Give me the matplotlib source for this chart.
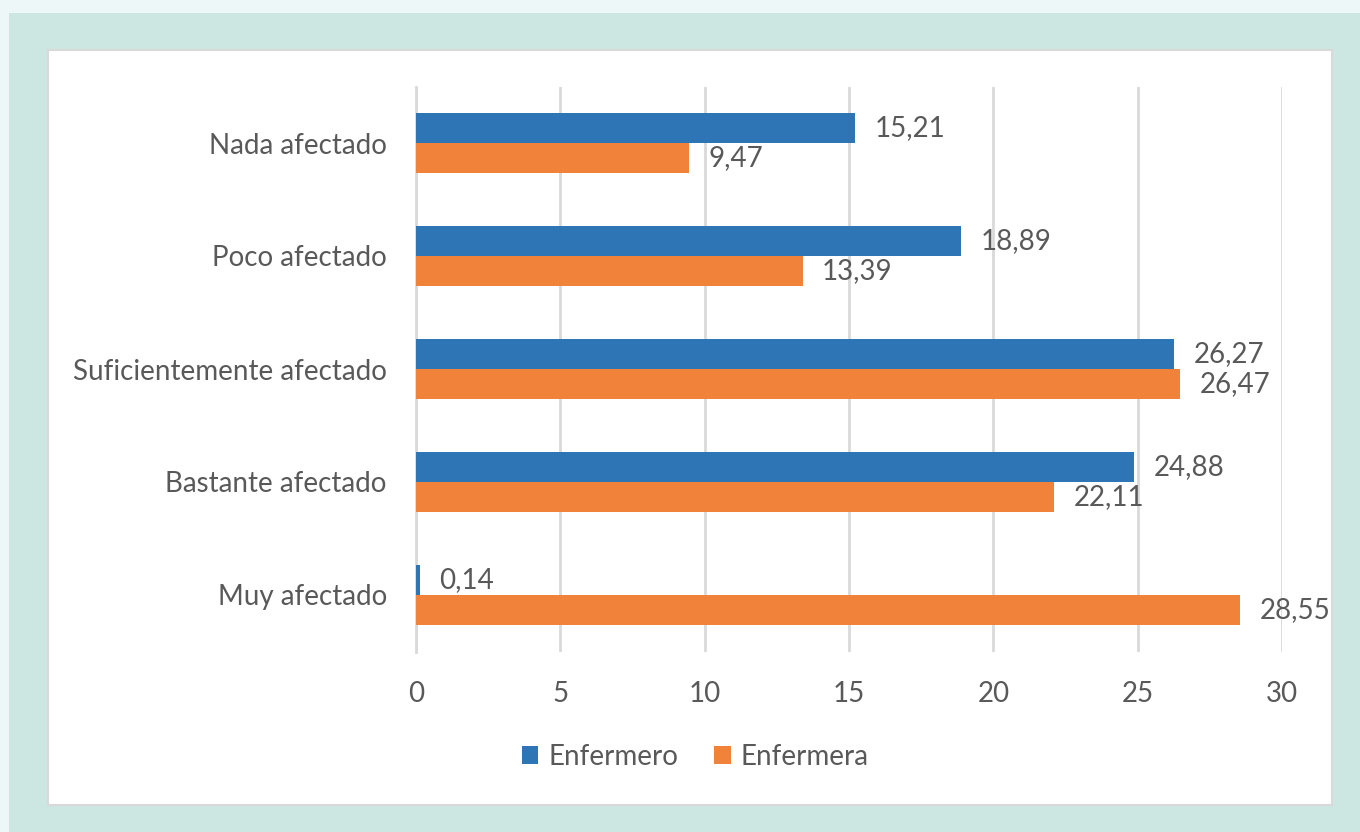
import numpy as np
import matplotlib.pyplot as plt
from matplotlib.patches import Rectangle

# data
categorias = ['Nada afectado', 'Poco afectado', 'Suficientemente afectado',
              'Bastante afectado', 'Muy afectado']
enfermero = [15.21, 18.89, 26.27, 24.88, 0.14]
enfermera = [9.47, 13.39, 26.47, 22.11, 28.55]

azul = '#2E75B6'
naranja = '#F0823A'
gris_txt = '#595959'
gris_lin = '#D9D9D9'

plt.rcParams['font.family'] = ['Lato', 'DejaVu Sans']

W, H = 1360, 832
fig = plt.figure(figsize=(W / 100, H / 100), dpi=100)
fig.patch.set_facecolor('#EEF7F8')

def px(x0, y0, x1, y1):
    # pixel box (top-left origin) -> figure fraction rectangle
    return (x0 / W, 1 - y1 / H, (x1 - x0) / W, (y1 - y0) / H)

# teal frame and white panel
x, y, w, h = px(9, 13, 1360, 832)
fig.patches.append(Rectangle((x, y), w, h, transform=fig.transFigure,
                             facecolor='#CCE6E1', edgecolor='none', zorder=-2))
x, y, w, h = px(48, 50, 1332, 805)
fig.patches.append(Rectangle((x, y), w, h, transform=fig.transFigure,
                             facecolor='white', edgecolor=gris_lin, lw=1.5, zorder=-1))

ax = fig.add_axes(px(416, 86.5, 1282, 651.5))
ax.set_zorder(2)
ax.set_facecolor('none')

pos = np.arange(len(categorias))
alto = 0.262
ax.barh(pos - alto / 2, enfermero, height=alto, color=azul, label='Enfermero', zorder=3)
ax.barh(pos + alto / 2, enfermera, height=alto, color=naranja, label='Enfermera', zorder=3)

fs = 20
for i in range(len(categorias)):
    ax.annotate(f'{enfermero[i]:.2f}'.replace('.', ','), (enfermero[i], pos[i] - alto / 2),
                xytext=(14, 0), textcoords='offset points', va='center', ha='left',
                fontsize=fs, color=gris_txt)
    ax.annotate(f'{enfermera[i]:.2f}'.replace('.', ','), (enfermera[i], pos[i] + alto / 2),
                xytext=(14, 0), textcoords='offset points', va='center', ha='left',
                fontsize=fs, color=gris_txt)

ax.set_xlim(0, 30)
ax.set_ylim(len(categorias) - 0.5, -0.5)
ax.set_xticks(range(0, 31, 5))
ax.set_yticks(pos)
ax.set_yticklabels(categorias)
ax.tick_params(axis='both', length=0, labelsize=fs, colors=gris_txt)
ax.tick_params(axis='y', pad=21)
ax.tick_params(axis='x', pad=21)
ax.grid(axis='x', color=gris_lin, lw=2, zorder=0)
for s in ['top', 'right', 'bottom']:
    ax.spines[s].set_visible(False)
ax.spines['left'].set_color(gris_lin)
ax.spines['left'].set_linewidth(2)

leg = fig.legend(loc='center', bbox_to_anchor=(695 / W, 1 - 757 / H), ncol=2,
                 frameon=False, fontsize=fs, handlelength=0.6, handleheight=0.6,
                 handletextpad=0.35, columnspacing=1.3)
for t in leg.get_texts():
    t.set_color(gris_txt)

fig.savefig('out.png', dpi=100, facecolor=fig.get_facecolor())
